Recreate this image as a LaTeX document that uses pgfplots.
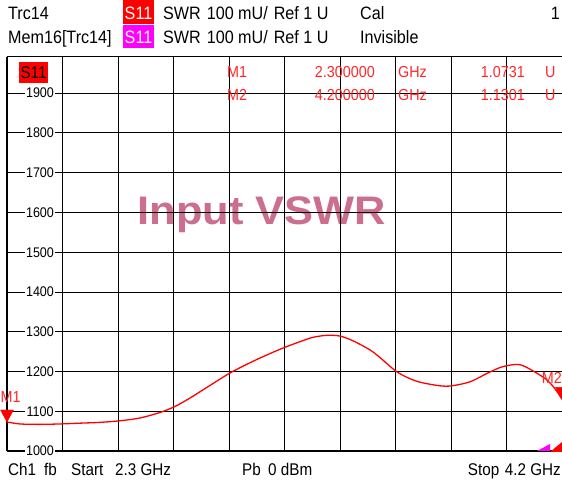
\documentclass[border=0pt]{standalone}
\usepackage{pgfplots}
\pgfplotsset{compat=1.18}
\usepackage{fontspec}
\setmainfont{Liberation Sans}[FakeStretch=0.9]
\newfontfamily\titlefont{Liberation Sans}[FakeStretch=1.09]
\definecolor{trc}{RGB}{255,0,0}
\definecolor{mem}{RGB}{255,0,255}
\definecolor{ttl}{RGB}{204,110,142}
\definecolor{mtxt}{RGB}{255,40,40}
\pgfdeclareplotmark{dtri}{%
  \pgfpathmoveto{\pgfpoint{0bp}{0bp}}%
  \pgfpathlineto{\pgfpoint{-6.5bp}{12bp}}%
  \pgfpathlineto{\pgfpoint{6.5bp}{12bp}}%
  \pgfpathclose\pgfusepathqfillstroke}
\begin{document}
\begin{tikzpicture}[x=1bp,y=1bp]
\useasboundingbox (0,0) rectangle (562,484);
% title behind grid
\node[anchor=base, text=ttl, inner sep=0, font=\titlefont\bfseries\fontsize{40}{40}\selectfont] at (262,259) {Input VSWR};
\begin{axis}[
  at={(7bp,33bp)}, anchor=south west, scale only axis,
  width=555bp, height=394bp,
  xmin=2.3, xmax=4.2, ymin=1000, ymax=1991,
  xtick={2.3,2.49,2.68,2.87,3.06,3.25,3.44,3.63,3.82,4.01,4.2},
  ytick={1000,1100,1200,1300,1400,1500,1600,1700,1800,1900},
  xticklabels={}, yticklabels={},
  major tick length=0pt,
  grid=major, major grid style={black, line width=0.9bp},
  axis line style={black, line width=1bp},
  clip=false,
]
\draw[black, line width=2bp] (rel axis cs:0,0) -- (rel axis cs:1,0);
\draw[black, line width=2bp] (rel axis cs:0,0) -- (rel axis cs:0,1);
\draw[black, line width=1.8bp] (axis cs:2.49,1000) -- (axis cs:2.49,1991);
\addplot[trc, line width=1.3bp, smooth] coordinates {
(2.300,1073)(2.3445,1068)(2.413,1067)(2.481,1068)(2.550,1070)(2.618,1072)
(2.687,1076)(2.755,1083)(2.824,1097)(2.875,1112)(2.926,1133)(2.978,1157)
(3.063,1196)(3.149,1228)(3.235,1256)(3.303,1275)(3.348,1286)(3.396,1291)
(3.440,1289)(3.485,1277)(3.543,1254)(3.577,1235)(3.605,1217)(3.635,1199)
(3.670,1185)(3.714,1173)(3.782,1164)(3.823,1164)(3.885,1174)(3.943,1195)
(3.988,1210)(4.022,1216)(4.056,1217)(4.090,1206)(4.135,1186)(4.152,1176)
(4.169,1163)(4.186,1146)(4.200,1130)};
\addplot[only marks, mark=dtri, mark options={fill=trc, draw=trc}] coordinates {(2.3,1073)(4.2,1130)};
\node[anchor=base west, text=mtxt, inner sep=0, font=\fontsize{16}{16}\selectfont] at (axis cs:2.3,1073) [xshift=-6.5bp, yshift=19bp] {M1};
\node[anchor=base east, text=mtxt, inner sep=0, font=\fontsize{16}{16}\selectfont] at (axis cs:4.2,1130) [xshift=0bp, yshift=16bp] {M2};
\pgfplotsinvokeforeach{1000,1100,1200,1300,1400,1500,1600,1700,1800,1900}{
  \node[fill=white, inner sep=1.5bp, font=\fontsize{14}{14}\selectfont] at (axis cs:2.3,#1) [xshift=33bp] {#1};
}
\end{axis}
% indicators bottom right
\fill[mem] (537,33) -- (550,40) -- (550,33) -- cycle;
\fill[trc] (550,32) -- (562,42) -- (562,32) -- cycle;
% in-plot S11 box
\fill[trc] (19,401) rectangle (48,422);
\node[anchor=base, inner sep=0, font=\fontsize{17}{17}\selectfont] at (33.5,405) {S11};
% marker table
\begin{scope}[every node/.style={inner sep=0, text=mtxt, font=\fontsize{16}{16}\selectfont}]
\node[anchor=base west] at (227,406) {M1};
\node[anchor=base west] at (227,383) {M2};
\node[anchor=base east] at (375,406) {2.300000};
\node[anchor=base east] at (375,383) {4.200000};
\node[anchor=base west] at (398,406) {GHz};
\node[anchor=base west] at (398,383) {GHz};
\node[anchor=base east] at (525,406) {1.0731};
\node[anchor=base east] at (525,383) {1.1301};
\node[anchor=base west] at (545,406) {U};
\node[anchor=base west] at (545,383) {U};
\end{scope}
% header
\fill[trc] (123,460) rectangle (154,484);
\fill[mem] (123,436) rectangle (154,459);
\begin{scope}[every node/.style={inner sep=0, font=\fontsize{18}{18}\selectfont}]
\node[anchor=base west] at (8,464) {Trc14};
\node[anchor=base west] at (8,440) {Mem16[Trc14]};
\node[anchor=base, text=white] at (138.5,464) {S11};
\node[anchor=base, text=white] at (138.5,440) {S11};
\node[anchor=base west] at (163,464) {SWR\,\,100 mU/\,\,Ref 1 U};
\node[anchor=base west] at (163,440) {SWR\,\,100 mU/\,\,Ref 1 U};
\node[anchor=base west] at (360,464) {Cal};
\node[anchor=base west] at (360,440) {Invisible};
\node[anchor=base east] at (560,464) {1};
\end{scope}
% footer
\begin{scope}[every node/.style={inner sep=0, font=\fontsize{17}{17}\selectfont}]
\node[anchor=base west] at (8,8) {Ch1};
\node[anchor=base west] at (44,8) {fb};
\node[anchor=base west] at (71,8) {Start};
\node[anchor=base west] at (115,8) {2.3 GHz};
\node[anchor=base west] at (242,8) {Pb};
\node[anchor=base west] at (268,8) {0 dBm};
\node[anchor=base east] at (561,8) {Stop\,\,4.2 GHz};
\end{scope}
\end{tikzpicture}
\end{document}
